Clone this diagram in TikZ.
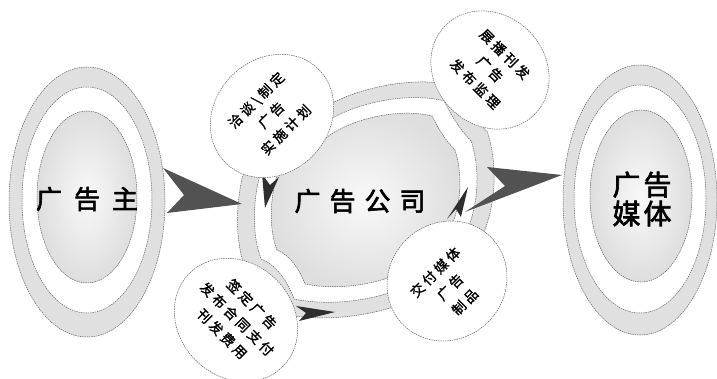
\documentclass[tikz,border=0pt]{standalone}
\usepackage{fontspec}
\newfontfamily\cjk[FakeBold=1.5,LetterSpace=24]{Noto Sans CJK SC}
\newfontfamily\cjkbig[FakeBold=2.2]{Noto Sans CJK SC}
\usetikzlibrary{shapes.geometric}
\tikzset{
  outl/.style={draw=black!60, line width=0.5pt, dash pattern=on 1.5pt off 0.8pt},
  ringfill/.style={outl, fill=gray!24},
  gapfill/.style={outl, fill=white},
  corefill/.style={outl, inner color=gray!5, outer color=gray!26},
  bubble/.style={ellipse, outl, fill=white, inner sep=0pt},
  btext/.style={font=\cjk\fontsize{13.5}{21}\selectfont, align=center, inner sep=0pt},
  bigtext/.style={font=\cjkbig\fontsize{26}{30}\selectfont, inner sep=0pt, align=center},
  chevron/.style={fill=black!68},
  dart/.style={fill=black!82},
  bigell/.style={ellipse, inner sep=0pt},
}
\newcommand\cushion[2]{#1[#2] (280,168) .. controls (270,190) and (268,228) .. (277,250)
  .. controls (290,255) and (300,270) .. (305,284)
  .. controls (345,292) and (395,282) .. (428,258)
  .. controls (435,243) and (442,232) .. (452,225)
  .. controls (462,200) and (462,172) .. (455,150)
  .. controls (445,140) and (438,128) .. (432,116)
  .. controls (400,108) and (355,118) .. (330,135)
  .. controls (312,148) and (295,160) .. (280,168) -- cycle;}
\begin{document}
\begin{tikzpicture}[x=1pt,y=-1pt]
\useasboundingbox (0,0) rectangle (717,379);
% central band
\begin{scope}[shift={(365,200)}, scale=1.36, shift={(-365,-200)}]
  \cushion{\filldraw}{ringfill}
\end{scope}
\begin{scope}[shift={(365,200)}, scale=1.18, shift={(-365,-200)}]
  \cushion{\filldraw}{gapfill}
\end{scope}
\cushion{\shadedraw}{corefill}
\node[bigtext] (co) at (360,201) {广\hspace{9pt}告\hspace{9pt}公\hspace{9pt}司};
% small darts on the band
\fill[dart] (262,174) -- (265,208) -- (279,177) -- (270,185) -- cycle;
\fill[dart] (296,306) -- (335,312) -- (299,321) -- (306,313) -- cycle;
\fill[dart] (447,219) -- (468,187) -- (461,217) -- (456,209) -- cycle;
% bubbles
\node[bubble, minimum width=132pt, minimum height=114pt, rotate=45] (b1) at (272,116) {};
\node[btext, rotate=45] (t1) at (271,115) {洽谈\textbackslash 制定\\广告\\实施计划};
\node[bubble, minimum width=126pt, minimum height=110pt, rotate=-45] (b2) at (490,70) {};
\node[btext, rotate=-45] (t2) at (490,69) {展播刊发\\广告\\发布监理};
\node[bubble, minimum width=132pt, minimum height=114pt, rotate=-45] (b3) at (236,320) {};
\node[btext, rotate=-45] (t3) at (237,319) {签定广告\\发布合同支付\\刊发费用};
\node[bubble, minimum width=124pt, minimum height=116pt, rotate=45] (b4) at (447,281) {};
\node[btext, rotate=45] (t4) at (450,287) {交付媒体\\广告\\制品};
% left ellipse
\node[bigell, ringfill, minimum width=156pt, minimum height=270pt] (adO) at (87,202) {};
\node[bigell, gapfill, minimum width=130pt, minimum height=226pt] (adM) at (87,200) {};
\node[bigell, corefill, minimum width=100pt, minimum height=172pt] (adI) at (87,197) {};
\node[bigtext] (adT) at (87,199) {广\hspace{12pt}告\hspace{12pt}主};
% right ellipse
\node[bigell, ringfill, minimum width=154pt, minimum height=270pt] (mdO) at (640,200) {};
\node[bigell, gapfill, minimum width=132pt, minimum height=228pt] (mdM) at (640,199) {};
\node[bigell, corefill, minimum width=102pt, minimum height=172pt] (mdI) at (641,196) {};
\node[bigtext, font=\cjkbig\fontsize{28}{29}\selectfont] (mdT) at (642,199) {广\hspace{3pt}告\\媒\hspace{3pt}体};
% chevrons
\fill[chevron] (163,168) -- (242,204) -- (167,213) -- (184,195) -- cycle;
\fill[chevron] (487,167) -- (562,175) -- (465,212) -- (505,186) -- cycle;
\end{tikzpicture}
\end{document}
